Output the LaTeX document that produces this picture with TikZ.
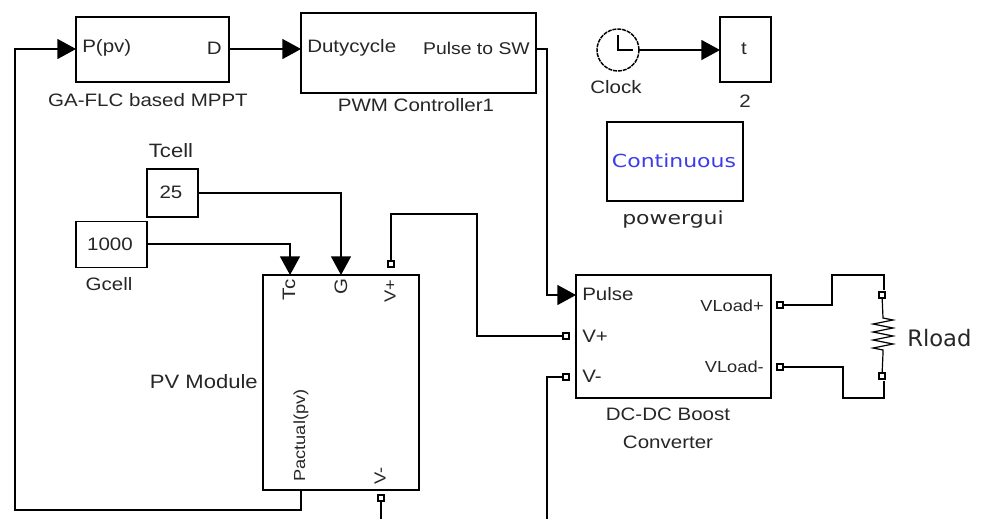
\documentclass[tikz,border=0pt]{standalone}
\usepackage{fontspec}
\setmainfont[FakeStretch=1.14]{Liberation Sans}
\newfontfamily\widefont[FakeStretch=1.22]{DejaVu Sans}
\newfontfamily\loadfont{DejaVu Sans}
\usetikzlibrary{positioning,calc,arrows.meta,decorations.pathmorphing}
\definecolor{guiblue}{RGB}{60,60,235}
\tikzset{>={Triangle[length=14pt,width=15pt]}}
\tikzset{
  block/.style={draw,line width=1.1pt,inner sep=0pt,outer sep=0pt},
  wire/.style={line width=1.1pt},
  port/.style={draw,line width=1.3pt,fill=white,inner sep=0pt,outer sep=0pt,minimum size=4.5pt},
  txt/.style={inner sep=0pt,font=\fontsize{13.5}{16}\selectfont,text=black!85},
  smalltxt/.style={inner sep=0pt,font=\fontsize{12}{14}\selectfont,text=black!85},
  widetxt/.style={inner sep=0pt,font=\fontsize{13.5}{16}\selectfont\widefont,text=black!85},
}
\begin{document}
\begin{tikzpicture}[x=0.75pt,y=-0.75pt]
\useasboundingbox (0,0) rectangle (984,519);
% Blocks
\node[block,minimum width=114.75pt,minimum height=48.75pt] (mppt) at (152.5,49.5) {};
\node[block,minimum width=176.25pt,minimum height=60pt] (pwm) at (418.5,53) {};
\node[block,minimum width=38.25pt,minimum height=48.75pt] (scope) at (745.5,49.5) {};
\node[block,minimum width=102pt,minimum height=59.25pt] (gui) at (675,161.5) {};
\node[block,minimum width=38.25pt,minimum height=36pt] (tcell) at (172.5,193) {};
\node[block,minimum width=53.25pt,minimum height=34.5pt] (gcell) at (111.5,244.5) {};
\node[block,minimum width=117pt,minimum height=161.25pt] (pv) at (341,382.5) {};
\node[block,minimum width=146.25pt,minimum height=92.25pt] (boost) at (673.5,336.5) {};
\node[draw,circle,dash pattern=on 3pt off 0.7pt,line width=1.1pt,minimum size=31.5pt,inner sep=0pt,outer sep=0pt] (clock) at (618,50) {};
\draw[wire] (618,35) -- (clock.center) -- (633,50);
% Text inside blocks
\node[txt,anchor=west] (mpptin) at (82,48) {P(pv)};
\node[txt,anchor=east] (mpptout) at (222,48) {D};
\node[txt,anchor=west] (pwmin) at (307,48) {Dutycycle};
\node[txt,font=\fontsize{12.75}{16}\selectfont,anchor=east] (pwmout) at (530,48) {Pulse to SW};
\node[txt] (scopet) at (744,49) {t};
\node[widetxt,text=guiblue] (guitxt) at (674,161) {Continuous};
\node[txt] (tcelltxt) at (171,192) {25};
\node[txt] (gcelltxt) at (110,244) {1000};
\node[txt,rotate=90] (pvtc) at (289,290) {Tc};
\node[txt,rotate=90] (pvg) at (341,287) {G};
\node[smalltxt,rotate=90] (pvvp) at (390,291) {V+};
\node[smalltxt,rotate=90,anchor=west] (pvout) at (301,482) {Pactual(pv)};
\node[smalltxt,rotate=90] (pvvm) at (380,476) {V-};
\node[txt,anchor=west] (boostpulse) at (582,294) {Pulse};
\node[txt,anchor=west] (boostvp) at (582,336) {V+};
\node[txt,anchor=west] (boostvm) at (582,376) {V-};
\node[smalltxt,anchor=east] (boostlp) at (764,306) {VLoad+};
\node[smalltxt,anchor=east] (boostlm) at (764,367) {VLoad-};
% Block names
\node[txt] (mpptname) at (148,100) {GA-FLC based MPPT};
\node[txt] (pwmname) at (416,105) {PWM Controller1};
\node[txt] (clockname) at (616,87) {Clock};
\node[txt] (scopename) at (745,101) {2};
\node[widetxt] (guiname) at (673,220) {powergui};
\node[txt,font=\fontsize{14.5}{18}\selectfont] (tcellname) at (171,151) {Tcell};
\node[txt] (gcellname) at (109,284) {Gcell};
\node[txt,font=\fontsize{14.5}{18}\selectfont,anchor=east] (pvname) at (258,382) {PV Module};
\node[txt,align=center] (boostname) at (668,428) {DC-DC Boost\\[5pt]Converter};
\node[inner sep=0pt,font=\fontsize{17}{20}\selectfont\loadfont,text=black!85,anchor=west] (rname) at (907,338) {Rload};
% Ports
\node[port] (pvvptop) at (391,264) {};
\node[port] (pvvmbot) at (381,498) {};
\node[port] (boostvpin) at (566,336) {};
\node[port] (boostvmin) at (566,377) {};
\node[port] (boostlpout) at (780,305) {};
\node[port] (boostlmout) at (780,367) {};
\node[port] (rtop) at (882,295) {};
\node[port] (rbot) at (882,376) {};
% Free ends and corners
\coordinate (bottomv) at (381,519);
\coordinate (bottomb) at (547,519);
\coordinate (pvoutpin) at (301,490);
% Signal wires
\draw[wire,->] (pvoutpin) -- (301,510) -- (15,510) -- (15,49) -- (mppt.west |- 0,49);
\draw[wire,->] (mppt.east |- 0,49) -- (pwm.west |- 0,49);
\draw[wire,->] (pwm.east |- 0,49) -- (547,49) -- (547,295) -- (boost.west |- 0,295);
\draw[wire,->] (clock.east) -- (scope.west |- clock.east);
\draw[wire,->] (tcell.east) -- (341,193) -- (341,275);
\draw[wire,->] (gcell.east |- 0,244) -- (290,244) -- (290,275);
% Power wires
\draw[wire] (pvvptop) -- (391,214) -- (477,214) -- (477,336) -- (boostvpin);
\draw[wire] (pvvmbot) -- (bottomv);
\draw[wire] (boostvmin) -- (547,377) -- (bottomb);
\draw[wire] (boostlpout) -- (832,305) -- (832,275) -- (884,275) -- (884,290);
\draw[wire] (boostlmout) -- (843,367) -- (843,398) -- (884,398) -- (884,381);
% Resistor
\draw[line width=0.9pt] (rtop) -- (883,318) decorate[decoration={zigzag,amplitude=7.5pt,segment length=6pt}] {-- (883,353)} -- (rbot);
\end{tikzpicture}
\end{document}
